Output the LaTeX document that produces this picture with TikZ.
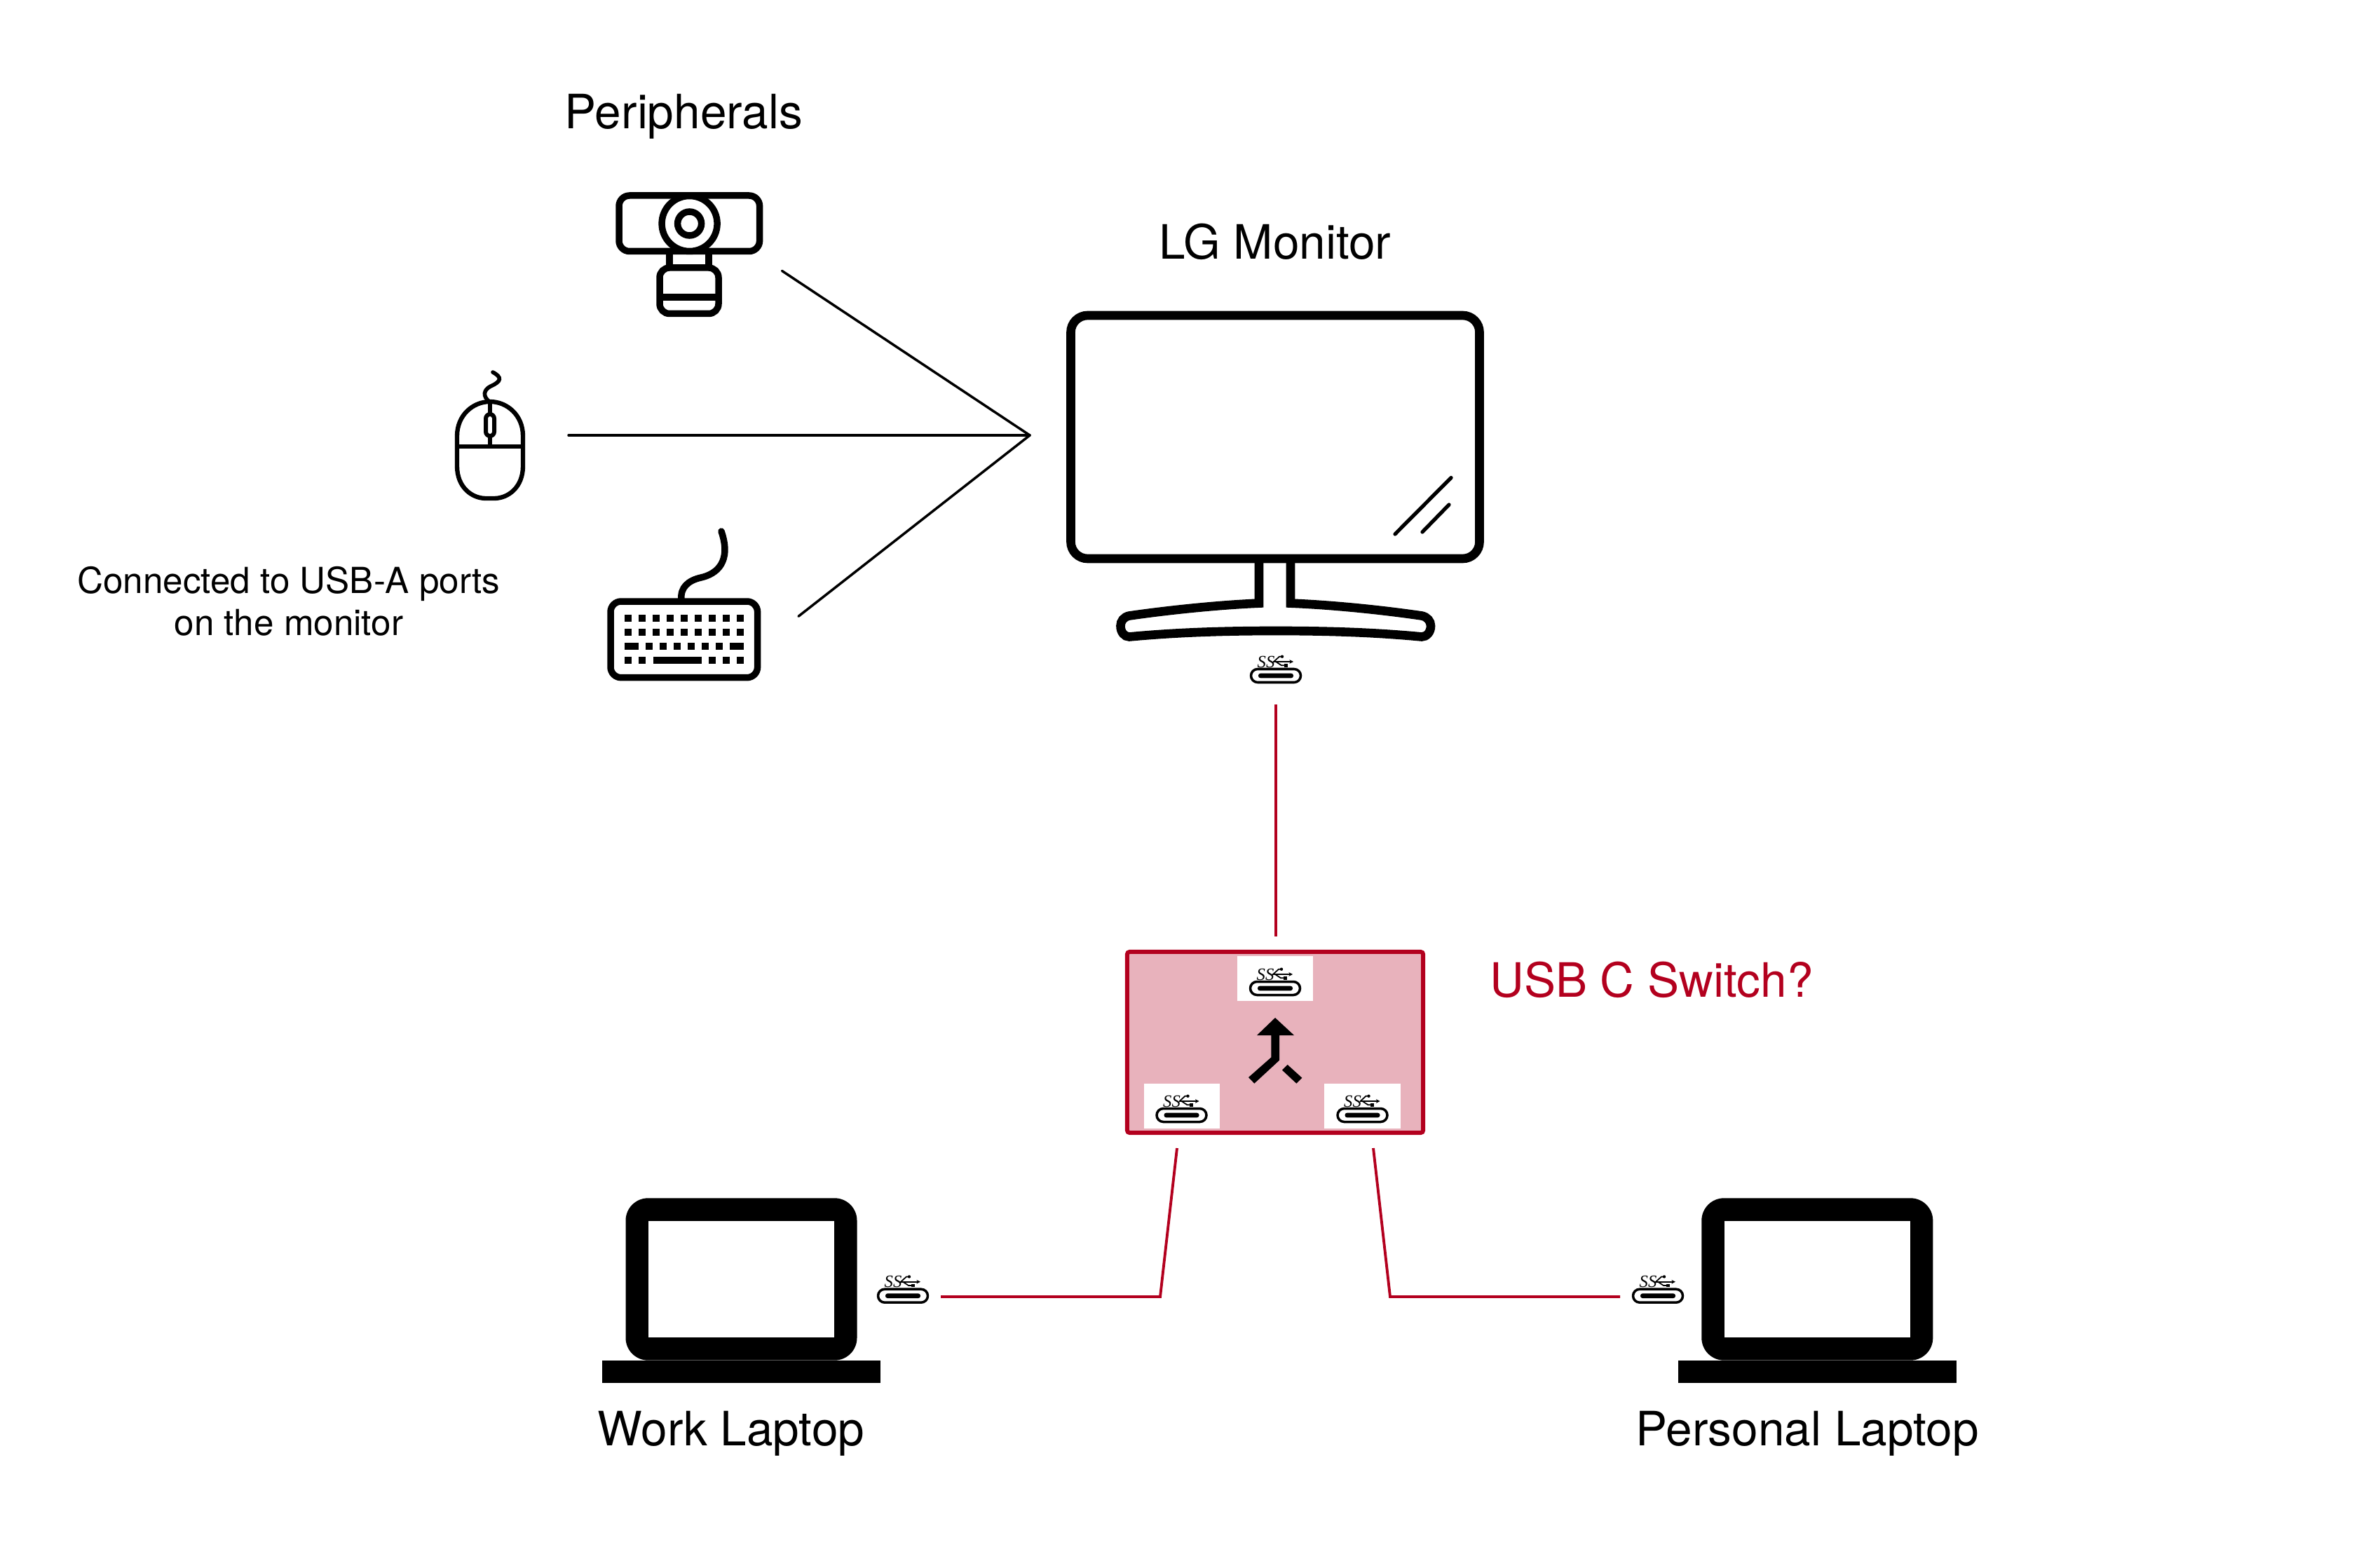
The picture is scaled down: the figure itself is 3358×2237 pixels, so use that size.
\documentclass[tikz,border=0pt]{standalone}
\usepackage{fontspec}
\setmainfont{TeX Gyre Heros}
\newfontfamily\ssfont{Liberation Serif}
\usetikzlibrary{arrows.meta,positioning}
\definecolor{cRed}{RGB}{179,0,30}
\definecolor{cPink}{RGB}{232,178,188}
\tikzset{
  bigtext/.style={anchor=base,inner sep=0pt,font=\fontsize{19.2}{22}\selectfont},
  smalltext/.style={anchor=base,inner sep=0pt,align=center,
                    font=\fontsize{14.55}{17}\selectfont},
  wire/.style={line width=1pt,line cap=round,color=black},
  redwire/.style={line width=1.1pt,color=cRed},
  icon/.style={line width=2.7pt,color=black},
  switchbox/.style={rectangle,draw=cRed,fill=cPink,line width=1.7pt,
                    rounded corners=1pt,minimum width=4.22cm,minimum height=2.58cm},
  portpad/.style={rectangle,fill=white,inner sep=0pt,
                  minimum width=1.08cm,minimum height=0.64cm},
  usbc/.pic={
    \draw[line width=1pt,rounded corners=0.095cm] (-35.5,-9.5) rectangle (35.5,9.5);
    \fill[rounded corners=0.03cm] (-25,-3.3) rectangle (25,3.3);
    \node[inner sep=0pt,font=\ssfont\itshape\fontsize{7}{7}\selectfont] (-ss) at (-14,-20) {SS};
    \draw[line width=0.5pt,-{Stealth[length=1.6pt,width=1.6pt]}] (-4,-20) -- (25,-20);
    \draw[line width=0.5pt] (-3,-20) -- (5,-27.3) -- (9,-27.3);
    \draw[line width=0.5pt] (0,-20) -- (8,-14.7) -- (13,-14.7);
    \fill (9,-27.3) circle (2.2);
    \fill (11.5,-17.2) rectangle (16.5,-12.4);
  },
  laptop/.pic={
    \fill[rounded corners=0.32cm] (-165,-115.7) rectangle (165,115.7);
    \fill[white] (-132.5,-82.7) rectangle (132.2,82.7);
    \fill (-198.5,115.7) rectangle (198.2,148.3);
  }
}

\begin{document}
\begin{tikzpicture}[x=0.01cm,y=-0.01cm]
  \useasboundingbox (0,0) rectangle (3358,2237);

  % Labels
  \node[bigtext] (peripherals) at (975.5,184) {Peripherals};
  \node[bigtext] (mon_label) at (1819,370) {LG Monitor};
  \node[bigtext,text=cRed] (sw_label) at (2356,1422.7) {USB C Switch?};
  \node[bigtext] (work_label) at (1043,2062) {Work Laptop};
  \node[bigtext] (home_label) at (2578,2062) {Personal Laptop};
  \node[smalltext] (usba_top) at (412,846) {Connected to USB-A ports};
  \node[smalltext] (usba_bot) at (412,906) {on the monitor};

  % Monitor
  \draw[line width=3.6pt,rounded corners=0.24cm] (1527.5,450) rectangle (2110.5,797);
  \draw[line width=3.6pt] (1796,803) -- (1796,860.6)
      .. controls (1740,863) and (1670,870) .. (1611,878.5)
      .. controls (1603,880) and (1598.5,886) .. (1598.5,893)
      .. controls (1598.5,902) and (1604,908.5) .. (1611,908.5)
      .. controls (1680,902) and (1750,900) .. (1820,900)
      .. controls (1890,900) and (1960,902) .. (2028,908.5)
      .. controls (2035,908.5) and (2041,902) .. (2041,893)
      .. controls (2041,886) and (2036,880) .. (2028,878.5)
      .. controls (1970,870) and (1900,863) .. (1841,860.6) -- (1841,803);
  \draw[line width=1.5pt,line cap=round] (1990,762) -- (2070,681.5);
  \draw[line width=1.5pt,line cap=round] (2029,759) -- (2067,720);
  \pic (mon_port) at (1820,964) {usbc};

  % Webcam
  \draw[icon,rounded corners=0.15cm] (883,279) rectangle (1083.6,358.5);
  \draw[icon,fill=white] (983.6,319) circle (39.5);
  \draw[icon] (983.6,319) circle (17);
  \draw[icon] (955,358.5) -- (955,382);
  \draw[icon] (1011,358.5) -- (1011,382);
  \draw[icon,rounded corners=0.14cm] (941,382) rectangle (1025,447.5);
  \draw[icon] (941,424) -- (1025,424);

  % Mouse
  \draw[line width=1.8pt] (652,637) -- (652,622)
      .. controls (652,592) and (675,573) .. (699,573)
      .. controls (723,573) and (746,592) .. (746,622) -- (746,665)
      .. controls (746,695) and (725,711) .. (705,711) -- (693,711)
      .. controls (673,711) and (652,695) .. (652,665) -- cycle;
  \draw[line width=1.8pt] (652,637) -- (746,637);
  \draw[line width=1.7pt] (699,573) -- (699,637);
  \draw[line width=1.7pt,fill=white,rounded corners=0.06cm] (693,591) rectangle (705,622);
  \draw[line width=1.6pt,line cap=round] (698,573)
      .. controls (688,565) and (690,556) .. (700,551)
      .. controls (716,544) and (716,538) .. (703,531);

  % Keyboard
  \draw[icon,rounded corners=0.15cm] (871,858) rectangle (1080.6,966.7);
  \draw[icon,line cap=round] (972,856)
      .. controls (970,838) and (982,828) .. (1000,824)
      .. controls (1022,819) and (1044,802) .. (1029,758);
  \foreach \kx in {896,916,...,1056} {
    \fill (\kx-5,877) rectangle (\kx+5,887);
    \fill (\kx-5,896.6) rectangle (\kx+5,906.6);
  }
  \foreach \kx in {926,946,...,1026}
    \fill (\kx-5,916.6) rectangle (\kx+5,926.6);
  \fill (891,916.6) rectangle (911.4,926.6);
  \fill (1041,916.6) rectangle (1061,926.6);
  \foreach \kx in {896,916,1016,1036,1056}
    \fill (\kx-5,937) rectangle (\kx+5,947);
  \fill (931.6,937) rectangle (1000.8,947);

  % Peripheral wires
  \coordinate (hub) at (1469,621);
  \coordinate (cam_end) at (1115.5,386.4);
  \coordinate (mouse_end) at (811,621);
  \coordinate (keys_end) at (1139,879.3);
  \draw[wire] (cam_end) -- (hub);
  \draw[wire] (mouse_end) -- (hub);
  \draw[wire] (keys_end) -- (hub);

  % Switch
  \node[switchbox] (switch) at (1819,1487) {};
  \node[portpad] (pad_top) at (1819,1396) {};
  \node[portpad] (pad_left) at (1686,1578) {};
  \node[portpad] (pad_right) at (1943.5,1578) {};
  \pic (sw_top) at (1819,1410) {usbc};
  \pic (sw_left) at (1685.5,1591) {usbc};
  \pic (sw_right) at (1943.5,1591) {usbc};
  \fill (1819,1452) -- (1846,1477) -- (1825,1477) -- (1825,1512.7)
      -- (1789.3,1545.7) -- (1781,1537) -- (1813.3,1508.5) -- (1813.3,1477)
      -- (1793,1477) -- cycle;
  \fill (1836.7,1519) -- (1857.3,1537.7) -- (1849.3,1545.7) -- (1829,1526.7) -- cycle;

  % Laptops
  \pic (work) at (1057.5,1825) {laptop};
  \pic (home) at (2592.3,1825) {laptop};
  \pic (work_port) at (1288,1848.7) {usbc};
  \pic (home_port) at (2365,1848.7) {usbc};

  % Red wires
  \coordinate (mon_tail) at (1820,1005);
  \coordinate (sw_in) at (1820,1336);
  \coordinate (sw_outl) at (1679,1638);
  \coordinate (bend_l) at (1655,1850);
  \coordinate (work_tail) at (1342,1850);
  \coordinate (sw_outr) at (1959,1638);
  \coordinate (bend_r) at (1983,1850);
  \coordinate (home_tail) at (2311,1850);
  \draw[redwire] (mon_tail) -- (sw_in);
  \draw[redwire] (sw_outl) -- (bend_l) -- (work_tail);
  \draw[redwire] (sw_outr) -- (bend_r) -- (home_tail);
\end{tikzpicture}
\end{document}
